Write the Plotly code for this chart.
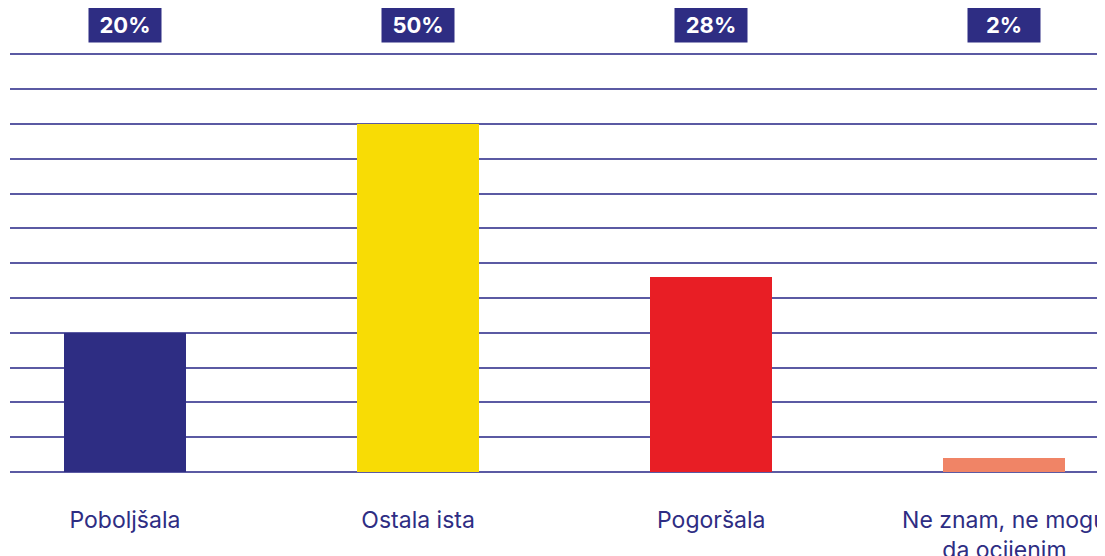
import plotly.graph_objects as go

categories = ["Poboljšala", "Ostala ista", "Pogoršala", "Ne znam, ne mogu<br>da ocijenim"]
values = [20, 50, 28, 2]
labels = ["20%", "50%", "28%", "2%"]
colors = ["#2e2d83", "#f8dc05", "#e81e25", "#f08466"]

navy = "#2e2d83"
xs = list(range(len(categories)))
FONT = "Inter, Open Sans, sans-serif"

fig = go.Figure()
fig.add_trace(go.Bar(
    x=xs, y=values, marker=dict(color=colors, line=dict(width=0)),
    width=0.416, hoverinfo="skip", showlegend=False,
))

for xi, lab in zip(xs, labels):
    fig.add_annotation(
        x=xi, y=1, xref="x", yref="paper", yanchor="bottom", yshift=10,
        text="<b>" + lab + "</b>", showarrow=False,
        font=dict(family=FONT, size=22, color="white"),
        bgcolor=navy, width=62, height=25, borderpad=5,
    )

fig.update_layout(
    width=1097, height=548,
    margin=dict(l=2, r=0, t=45, b=84, autoexpand=False),
    paper_bgcolor="white", plot_bgcolor="white",
    font=dict(family=FONT, color=navy),
    xaxis=dict(
        range=[-0.392, 3.343], tickmode="array", tickvals=xs, ticktext=categories,
        showgrid=False, zeroline=False, showline=False, automargin=False,
        tickfont=dict(size=23, color=navy), ticks="", ticklabelstandoff=32,
        ticklabeloverflow="allow",
    ),
    yaxis=dict(
        range=[0, 60.2], dtick=5, showticklabels=False, showgrid=True,
        gridcolor="#5b5aa3", gridwidth=1.5, zeroline=True, zerolinecolor="#5b5aa3",
        zerolinewidth=1.5, showline=False, ticks="", automargin=False,
    ),
    bargap=0,
)

fig.write_html("out.html")
